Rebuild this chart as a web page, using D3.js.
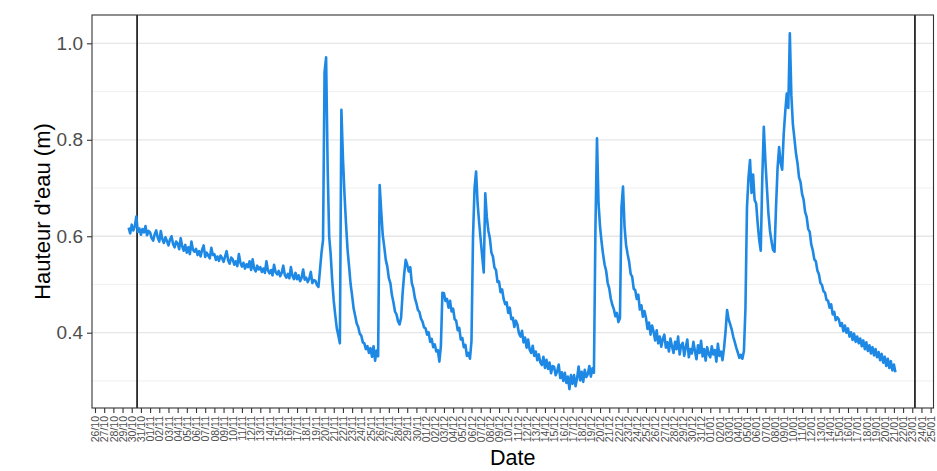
<!DOCTYPE html>
<html>
<head>
<meta charset="utf-8">
<script src="https://cdn.jsdelivr.net/npm/d3@7"></script>
<style>
  body { margin: 0; background: #ffffff; }
  svg { display: block; }
  text { font-family: "Liberation Sans", Arial, sans-serif; }
</style>
</head>
<body>
<svg id="chart" width="937" height="471"></svg>
<script>
// Water level readings (m), one every 4 hours, grouped by month.
const levelsOct = [
  0.618, 0.606,
  0.624, 0.612, 0.620, 0.641, 0.609, 0.616,
  0.603, 0.615, 0.608, 0.621, 0.602, 0.611
];
const levelsNov = [
  0.608, 0.596, 0.591, 0.604, 0.612, 0.597,
  0.589, 0.611, 0.594, 0.586, 0.598, 0.590,
  0.581, 0.593, 0.600, 0.584, 0.577, 0.589,
  0.585, 0.573, 0.596, 0.579, 0.570, 0.582,
  0.566, 0.577, 0.563, 0.589, 0.572, 0.568,
  0.574, 0.561, 0.569, 0.558, 0.572, 0.581,
  0.557, 0.566, 0.560, 0.554, 0.576, 0.561,
  0.563, 0.551, 0.558, 0.549, 0.560, 0.555,
  0.547, 0.558, 0.569, 0.550, 0.543, 0.556,
  0.552, 0.541, 0.548, 0.538, 0.563, 0.545,
  0.537, 0.545, 0.533, 0.542, 0.536, 0.548,
  0.530, 0.552, 0.533, 0.527, 0.539, 0.531,
  0.536, 0.526, 0.533, 0.524, 0.548, 0.529,
  0.523, 0.530, 0.519, 0.541, 0.526, 0.521,
  0.528, 0.517, 0.524, 0.539, 0.520, 0.514,
  0.522, 0.513, 0.536, 0.518, 0.511, 0.524,
  0.511, 0.519, 0.507, 0.514, 0.531, 0.510,
  0.514, 0.505, 0.512, 0.526, 0.503, 0.509,
  0.508, 0.499, 0.495, 0.530, 0.566, 0.592,
  0.940, 0.971, 0.745, 0.600, 0.562, 0.508,
  0.466, 0.436, 0.409, 0.394, 0.378, 0.862,
  0.762, 0.688, 0.627, 0.573, 0.538, 0.501,
  0.477, 0.450, 0.435, 0.419, 0.412, 0.398,
  0.394, 0.380, 0.378, 0.366, 0.372, 0.358,
  0.368, 0.350, 0.372, 0.342, 0.363, 0.351,
  0.706, 0.652, 0.603, 0.578, 0.551, 0.537,
  0.513, 0.503, 0.478, 0.463, 0.444, 0.438,
  0.424, 0.417, 0.431, 0.482, 0.521, 0.551,
  0.541, 0.527, 0.536, 0.503, 0.492, 0.472,
  0.461, 0.447, 0.443, 0.429, 0.423, 0.411
];
const levelsDec = [
  0.409, 0.396, 0.401, 0.381, 0.387, 0.370,
  0.376, 0.361, 0.364, 0.340, 0.372, 0.483,
  0.482, 0.466, 0.470, 0.452, 0.466, 0.444,
  0.450, 0.428, 0.425, 0.405, 0.410, 0.386,
  0.389, 0.370, 0.375, 0.352, 0.358, 0.346,
  0.383, 0.600, 0.700, 0.734, 0.668, 0.628,
  0.593, 0.558, 0.525, 0.689, 0.640, 0.612,
  0.596, 0.566, 0.558, 0.535, 0.530, 0.505,
  0.506, 0.484, 0.490, 0.470, 0.459, 0.463,
  0.441, 0.452, 0.428, 0.431, 0.412, 0.425,
  0.417, 0.399, 0.392, 0.404, 0.380, 0.390,
  0.369, 0.386, 0.365, 0.358, 0.373, 0.352,
  0.361, 0.343, 0.355, 0.338, 0.333, 0.350,
  0.327, 0.344, 0.325, 0.338, 0.316, 0.331,
  0.329, 0.312, 0.320, 0.334, 0.306, 0.318,
  0.300, 0.317, 0.296, 0.309, 0.283, 0.312,
  0.294, 0.312, 0.289, 0.306, 0.330, 0.301,
  0.319, 0.298, 0.323, 0.308, 0.314, 0.331,
  0.309, 0.326, 0.317, 0.620, 0.803, 0.668,
  0.620, 0.588, 0.562, 0.541, 0.528, 0.503,
  0.492, 0.471, 0.458, 0.449, 0.434, 0.441,
  0.422, 0.430, 0.660, 0.703, 0.620, 0.582,
  0.563, 0.547, 0.522, 0.516, 0.491, 0.488,
  0.470, 0.479, 0.448, 0.457, 0.433, 0.445,
  0.431, 0.408, 0.421, 0.396, 0.415, 0.402,
  0.384, 0.405, 0.378, 0.392, 0.371, 0.387,
  0.396, 0.369, 0.380, 0.361, 0.388, 0.372,
  0.358, 0.381, 0.366, 0.392, 0.355, 0.374,
  0.379, 0.352, 0.370, 0.386, 0.349, 0.366,
  0.357, 0.381, 0.362, 0.345, 0.374, 0.358,
  0.383, 0.351, 0.366, 0.342, 0.370, 0.356
];
const levelsJan = [
  0.349, 0.372, 0.355, 0.364, 0.340, 0.377,
  0.352, 0.361, 0.343, 0.368, 0.402, 0.447,
  0.428, 0.418, 0.407, 0.392, 0.381, 0.369,
  0.359, 0.348, 0.354, 0.346, 0.362, 0.450,
  0.660, 0.722, 0.758, 0.690, 0.728, 0.675,
  0.668, 0.626, 0.592, 0.570, 0.720, 0.827,
  0.758, 0.702, 0.648, 0.612, 0.590, 0.572,
  0.568, 0.662, 0.742, 0.785, 0.752, 0.738,
  0.812, 0.858, 0.896, 0.866, 1.021, 0.892,
  0.832, 0.803, 0.772, 0.752, 0.722, 0.712,
  0.688, 0.676, 0.650, 0.640, 0.615, 0.609,
  0.583, 0.571, 0.552, 0.548, 0.529, 0.521,
  0.503, 0.499, 0.486, 0.483, 0.468, 0.466,
  0.452, 0.459, 0.438, 0.443, 0.426, 0.432,
  0.428, 0.414, 0.420, 0.403, 0.415, 0.400,
  0.409, 0.392, 0.401, 0.385, 0.398, 0.381,
  0.392, 0.378, 0.388, 0.372, 0.384, 0.366,
  0.380, 0.362, 0.374, 0.357, 0.370, 0.353,
  0.366, 0.349, 0.360, 0.343, 0.356, 0.338,
  0.350, 0.331, 0.346, 0.327, 0.341, 0.322,
  0.334, 0.318
];
// First timestamp of each month's readings (UTC) and sampling step.
const monthStarts = ["2020-10-29T16:00:00Z", "2020-11-01T00:00:00Z", "2020-12-01T00:00:00Z", "2021-01-01T00:00:00Z"];
const stepHours = 4;

// Vertical reference lines.
const markerDates = ["2020-10-30T14:00:00Z", "2021-01-23T07:00:00Z"];

// Axis breaks.
const yTicks = [0.4, 0.6, 0.8, 1.0];
const yMinorTicks = [0.3, 0.5, 0.7, 0.9];
const firstTickDay = "2020-10-26T00:00:00Z";
const lastTickDay = "2021-01-25T00:00:00Z";

const yTitle = "Hauteur d'eau (m)";
const xTitle = "Date";

// ---- build the series ----
const monthly = [levelsOct, levelsNov, levelsDec, levelsJan];
const series = [];
monthly.forEach((arr, m) => {
  const t0 = new Date(monthStarts[m]).getTime();
  arr.forEach((v, i) => series.push({ t: new Date(t0 + i * stepHours * 3600e3), v }));
});

// ---- layout ----
const svg = d3.select("#chart");
const panel = { left: 92, top: 15, right: 933.5, bottom: 408 };

const x = d3.scaleUtc()
  .domain([new Date("2020-10-25T16:10:00Z"), new Date("2021-01-25T07:30:00Z")])
  .range([panel.left, panel.right]);
const y = d3.scaleLinear()
  .domain([0.2439, 1.0587])
  .range([panel.bottom, panel.top]);

// grid lines
const grid = svg.append("g");
grid.selectAll("line.minor").data(yMinorTicks).join("line")
  .attr("x1", panel.left).attr("x2", panel.right)
  .attr("y1", d => y(d)).attr("y2", d => y(d))
  .attr("stroke", "#EDEDED").attr("stroke-width", 0.9);
grid.selectAll("line.major").data(yTicks).join("line")
  .attr("x1", panel.left).attr("x2", panel.right)
  .attr("y1", d => y(d)).attr("y2", d => y(d))
  .attr("stroke", "#E6E6E6").attr("stroke-width", 1.3);

// vertical reference lines
svg.append("g").selectAll("line").data(markerDates).join("line")
  .attr("x1", d => x(new Date(d))).attr("x2", d => x(new Date(d)))
  .attr("y1", panel.top).attr("y2", panel.bottom)
  .attr("stroke", "#1a1a1a").attr("stroke-width", 1.7);

// water level line
const line = d3.line().x(d => x(d.t)).y(d => y(d.v));
svg.append("path").datum(series)
  .attr("d", line)
  .attr("fill", "none")
  .attr("stroke", "#1E88E5")
  .attr("stroke-width", 2.6)
  .attr("stroke-linejoin", "round");

// panel border
svg.append("rect")
  .attr("x", panel.left).attr("y", panel.top)
  .attr("width", panel.right - panel.left).attr("height", panel.bottom - panel.top)
  .attr("fill", "none").attr("stroke", "#333333").attr("stroke-width", 1.1);

// y axis
const yAxis = svg.append("g")
  .attr("transform", `translate(${panel.left},0)`)
  .call(d3.axisLeft(y).tickValues(yTicks).tickFormat(d3.format(".1f")).tickSize(5).tickPadding(4));
yAxis.select(".domain").remove();
yAxis.selectAll(".tick line").attr("stroke", "#333333").attr("stroke-width", 1.1);
yAxis.selectAll(".tick text")
  .attr("fill", "#4D4D4D").style("font-size", "19px");

// x axis: one tick per day
const days = d3.utcDay.range(new Date(firstTickDay), d3.utcDay.offset(new Date(lastTickDay), 1));
const xAxis = svg.append("g")
  .attr("transform", `translate(0,${panel.bottom})`)
  .call(d3.axisBottom(x).tickValues(days).tickFormat(d3.utcFormat("%d/%m")).tickSize(5));
xAxis.select(".domain").remove();
xAxis.selectAll(".tick line").attr("stroke", "#333333").attr("stroke-width", 1.1);
xAxis.selectAll(".tick text")
  .attr("transform", "rotate(-90)")
  .attr("text-anchor", "end")
  .attr("x", -8).attr("y", 0).attr("dy", "0.35em")
  .attr("fill", "#4D4D4D").style("font-size", "10.5px");

// axis titles
svg.append("text")
  .attr("transform", `translate(${42},${(panel.top + panel.bottom) / 2}) rotate(-90)`)
  .attr("text-anchor", "middle").attr("dy", "0.35em")
  .style("font-size", "22px").attr("fill", "#000")
  .text(yTitle);
svg.append("text")
  .attr("x", (panel.left + panel.right) / 2).attr("y", 465)
  .attr("text-anchor", "middle")
  .style("font-size", "21.5px").attr("fill", "#000")
  .text(xTitle);
</script>
</body>
</html>
